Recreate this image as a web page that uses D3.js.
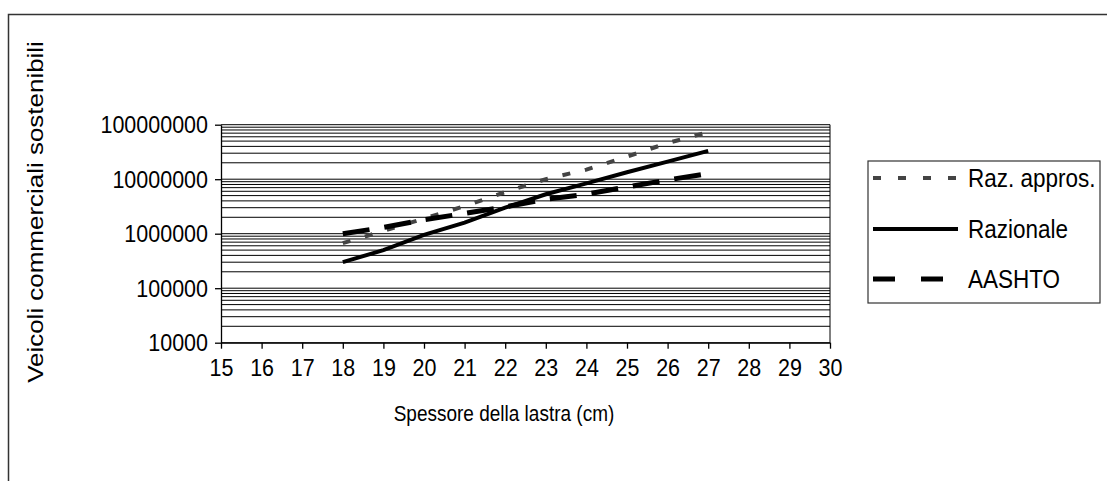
<!DOCTYPE html>
<html><head><meta charset="utf-8">
<script src="https://cdn.jsdelivr.net/npm/d3@7"></script>
<style>body{margin:0;background:#fff}svg{display:block;font-family:"Liberation Sans",Arial,sans-serif}</style>
</head><body><svg id="c" width="1107" height="481"></svg>
<script>
const spessore = [18,19,20,21,22,23,24,25,26,27];
const razApprox = [6.7e5,1.12e6,1.9e6,3.2e6,5.8e6,1.0e7,1.5e7,2.6e7,4.6e7,7.3e7];
const razionale = [3.0e5,5.0e5,9.5e5,1.6e6,3.0e6,5.3e6,8.4e6,1.34e7,2.1e7,3.3e7];
const aashto = [1.0e6,1.3e6,1.8e6,2.35e6,3.1e6,4.3e6,5.3e6,7.2e6,9.7e6,1.27e7];
const xTickLabels = [15,16,17,18,19,20,21,22,23,24,25,26,27,28,29,30];
const yTickLabels = ["10000","100000","1000000","10000000","100000000"];
const seriesNames = ["Raz. appros.","Razionale","AASHTO"];
const xTitle = "Spessore della lastra (cm)";
const yTitle = "Veicoli commerciali sostenibili";

const svg = d3.select("#c");
const L = 221, R = 830, T = 124.7, B = 342.7;
const SY = 1.15; // vertical stretch of glyphs
const x = d3.scaleLinear().domain([15,30]).range([L,R]);
const y = d3.scaleLog().domain([1e4,1e8]).range([B,T]);

// outer chart border
svg.append("rect").attr("x",8.5).attr("y",14.5).attr("width",1110).attr("height",480)
  .attr("fill","none").attr("stroke","#333").attr("stroke-width",1.5);

// gridlines (major + minor)
const grid = [];
for (let e = 4; e < 8; e++) for (let k = 1; k < 10; k++) grid.push(k*Math.pow(10,e));
grid.push(1e8);
svg.append("g").selectAll("line").data(grid).join("line")
  .attr("x1",L).attr("x2",R).attr("y1",d=>y(d)).attr("y2",d=>y(d))
  .attr("stroke","#000").attr("stroke-width",1);

// plot border right
svg.append("line").attr("x1",R).attr("x2",R).attr("y1",T).attr("y2",B).attr("stroke","#000");

// axes
const yAxis = d3.axisLeft(y).tickValues(yTickLabels.map(Number)).tickFormat(d=>String(d))
  .tickSize(6).tickSizeOuter(0).tickPadding(7);
const gy = svg.append("g").attr("transform",`translate(${L},0)`).call(yAxis);
gy.selectAll(".tick text").attr("transform",`scale(1,${SY})`);
const xAxis = d3.axisBottom(x).tickValues(xTickLabels).tickFormat(d=>String(d))
  .tickSize(6).tickSizeOuter(0);
const gx = svg.append("g").attr("transform",`translate(0,${B})`).call(xAxis);
gx.selectAll(".tick text").attr("y",0).attr("dy","0.35em").attr("transform",`translate(0,25) scale(1,${SY})`);
[gx,gy].forEach(g=>{
  g.selectAll("path,line").attr("stroke","#000").attr("stroke-width",1.3);
  g.selectAll("text").attr("font-size",21.5).attr("fill","#000").attr("font-family","Liberation Sans, Arial, sans-serif");
});

// series
const styles = [
  {data: razApprox, stroke:"#444", width:4, dash:"8,15"},
  {data: razionale, stroke:"#000", width:4, dash:null},
  {data: aashto, stroke:"#000", width:5, dash:"27,15"}
];
const line = d3.line().x((d,i)=>x(spessore[i])).y(d=>y(d));
styles.forEach(s=>{
  svg.append("path").datum(s.data).attr("d",line).attr("fill","none")
    .attr("stroke",s.stroke).attr("stroke-width",s.width)
    .attr("stroke-dasharray",s.dash);
});

// titles
svg.append("text").attr("transform",`translate(504,413) scale(1,${SY})`).attr("text-anchor","middle")
  .attr("dy","0.35em").attr("font-size",19).text(xTitle);
svg.append("text").attr("transform","translate(35,212) rotate(-90) scale(1.18,1)").attr("text-anchor","middle")
  .attr("dy","0.35em").attr("font-size",22).text(yTitle);

// legend
const lg = svg.append("g");
lg.append("rect").attr("x",868).attr("y",161).attr("width",232).attr("height",142)
  .attr("fill","#fff").attr("stroke","#333").attr("stroke-width",1.2);
const ly = [178,229,279];
seriesNames.forEach((n,i)=>{
  const s = styles[i];
  lg.append("line").attr("x1",873).attr("x2",958).attr("y1",ly[i]).attr("y2",ly[i])
    .attr("stroke",s.stroke).attr("stroke-width",s.width).attr("stroke-dasharray",i===0?"8,17":(i===2?"22,26":null));
  lg.append("text").attr("transform",`translate(968,${ly[i]}) scale(1,${SY})`).attr("dy","0.35em")
    .attr("font-size",22.5).text(n);
});
</script></body></html>
